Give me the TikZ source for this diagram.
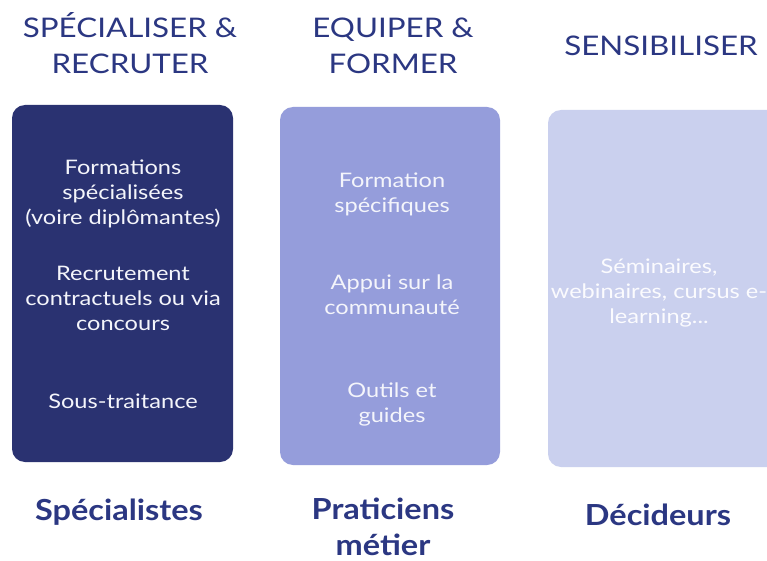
\documentclass[tikz,border=0pt]{standalone}
\usepackage{fontspec}
\setmainfont{Lato}
\newfontfamily\headfont[FakeStretch=1.16]{Lato}
\newfontfamily\itemfont[FakeStretch=1.18]{Lato}
\newfontfamily\footfont[FakeStretch=1.12]{Lato}
\definecolor{navy}{HTML}{2A3271}
\definecolor{midblue}{HTML}{959DDB}
\definecolor{paleblue}{HTML}{CAD0EE}
\definecolor{titleblue}{HTML}{2B3782}
\definecolor{boxtext}{HTML}{F4F5FB}
\begin{document}
\begin{tikzpicture}[x=1pt,y=-1pt,
  panel/.style={rounded corners=13pt, draw=none},
  head/.style={text=titleblue, align=center, font=\headfont\fontsize{27}{36}\selectfont, inner sep=0pt},
  item/.style={text=boxtext, align=center, font=\itemfont\fontsize{20}{25}\selectfont, inner sep=0pt},
  foot/.style={text=titleblue, align=center, font=\footfont\bfseries\fontsize{29}{36}\selectfont, inner sep=0pt}]
\useasboundingbox[fill=white] (0,0) rectangle (767,561);
% panels
\fill[panel, navy] (12,105) rectangle (233,462);
\fill[panel, midblue] (280,107) rectangle (500,465);
\begin{scope}
\clip (0,0) rectangle (767,561);
\fill[panel, paleblue] (548,110) rectangle (780,467);
\end{scope}
% headers
\node[head] (h1) at (130,43) {SPÉCIALISER \&\\RECRUTER};
\node[head] (h2) at (393,46) {EQUIPER \&\\FORMER};
\node[head] (h3) at (661,46) {SENSIBILISER};
% panel 1 items
\node[item] (a1) at (123,194) {Formations\\spécialisées\\(voire diplômantes)};
\node[item] (a2) at (123,298) {Recrutement\\contractuels ou via\\concours};
\node[item] (a3) at (123,401) {Sous-traitance};
% panel 2 items
\node[item] (b1) at (392,194) {Formation\\spécifiques};
\node[item] (b2) at (392,295) {Appui sur la\\communauté};
\node[item] (b3) at (392,404) {Outils et\\guides};
% panel 3 items
\node[item, text=white!92!paleblue] (c1) at (659,293) {Séminaires,\\webinaires, cursus e-\\learning...};
% footers
\node[foot] (f1) at (119,512) {Spécialistes};
\node[foot] (f2) at (383,527) {Praticiens\\métier};
\node[foot] (f3) at (658,515) {Décideurs};
\end{tikzpicture}
\end{document}
